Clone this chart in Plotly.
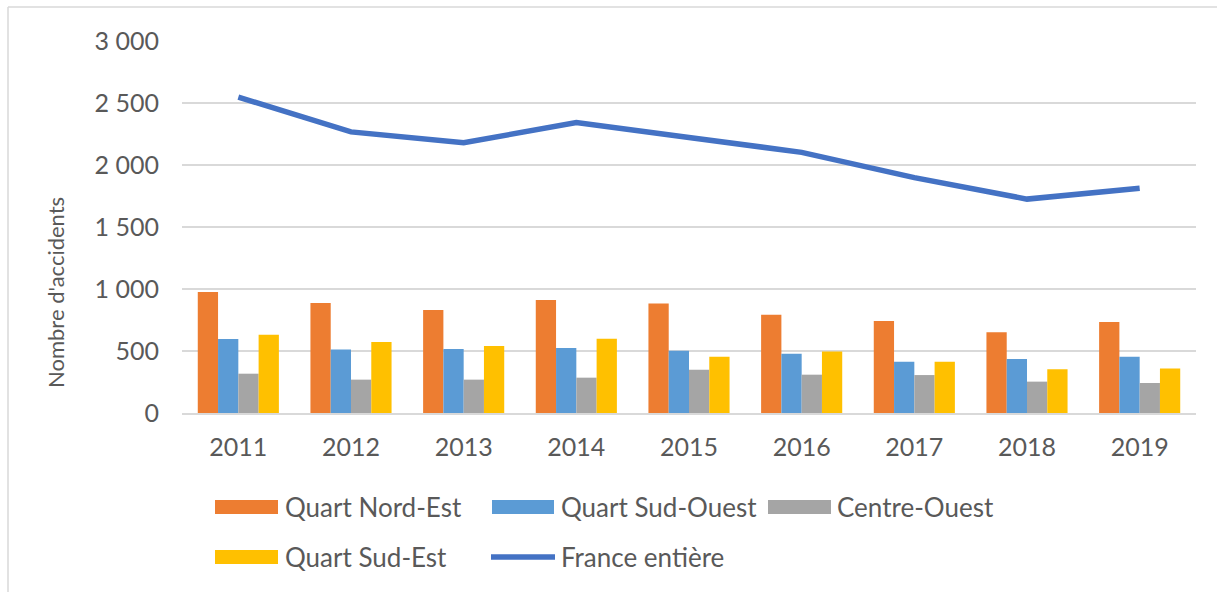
import plotly.graph_objects as go

years = ["2011", "2012", "2013", "2014", "2015", "2016", "2017", "2018", "2019"]
nord_est = [976, 887, 831, 911, 884, 793, 742, 651, 734]
sud_ouest = [597, 513, 516, 524, 503, 478, 414, 435, 454]
centre_ouest = [317, 269, 269, 285, 349, 309, 306, 253, 242]
sud_est = [632, 573, 540, 599, 454, 495, 414, 352, 358]
france = [2548, 2267, 2179, 2343, 2222, 2102, 1898, 1725, 1813]

y_ticks = [0, 500, 1000, 1500, 2000, 2500, 3000]
y_tick_text = ["0", "500", "1 000", "1 500", "2 000", "2 500", "3 000"]

names = ["Quart Nord-Est", "Quart Sud-Ouest", "Centre-Ouest", "Quart Sud-Est", "France entière"]
colors = ["#ED7D31", "#5B9BD5", "#A5A5A5", "#FFC000", "#4472C4"]

W, H = 1217, 592
L, R, T, B = 182, 21, 41, 179
PW, PH = W - L - R, H - T - B
FONT = "Lato"
TXT = "#595959"


def px(x):
    return (x - L) / PW


def py(y):
    return (H - B - y) / PH


fig = go.Figure()
for name, vals, col in zip(names[:4], [nord_est, sud_ouest, centre_ouest, sud_est], colors[:4]):
    fig.add_trace(go.Bar(x=years, y=vals, name=name, marker=dict(color=col, line=dict(width=0)),
                         showlegend=False))
fig.add_trace(go.Scatter(x=years, y=france, name=names[4], mode="lines",
                         line=dict(color=colors[4], width=5.5), showlegend=False))

shapes = []
annotations = []
# custom legend
legend_items = [
    (0, 215, 278, 285, 507),
    (1, 492, 554, 561, 507),
    (2, 768, 831, 837, 507),
    (3, 215, 278, 285, 557),
    (4, 489, 557, 561, 557),
]
for idx, x0, x1, tx, yc in legend_items:
    if idx == 4:
        shapes.append(dict(type="line", xref="paper", yref="paper", x0=px(x0 + 2), x1=px(x1 - 2),
                           y0=py(yc), y1=py(yc), line=dict(color=colors[idx], width=5.5)))
    else:
        shapes.append(dict(type="rect", xref="paper", yref="paper", x0=px(x0), x1=px(x1),
                           y0=py(yc + 7), y1=py(yc - 7), fillcolor=colors[idx], line=dict(width=0)))
    annotations.append(dict(text=names[idx], xref="paper", yref="paper", x=px(tx - 2), y=py(yc),
                            xanchor="left", yanchor="middle", showarrow=False,
                            font=dict(family=FONT, size=26, color=TXT)))

# y-axis title
annotations.append(dict(text="Nombre d'accidents", xref="paper", yref="paper", x=px(55), y=py(293),
                        textangle=-90, showarrow=False, xanchor="center", yanchor="middle",
                        font=dict(family=FONT, size=22, color=TXT)))

# outer border (left & top)
shapes.append(dict(type="line", xref="paper", yref="paper", x0=px(8), x1=px(8), y0=py(7), y1=py(592),
                   line=dict(color="#D9D9D9", width=1.5)))
shapes.append(dict(type="line", xref="paper", yref="paper", x0=px(8), x1=px(1217), y0=py(7), y1=py(7),
                   line=dict(color="#D9D9D9", width=1.5)))

fig.update_layout(
    width=W, height=H,
    margin=dict(l=L, r=R, t=T, b=B),
    plot_bgcolor="white", paper_bgcolor="white",
    barmode="group", bargap=0.28, bargroupgap=0,
    font=dict(family=FONT, color=TXT),
    shapes=shapes, annotations=annotations,
    xaxis=dict(type="category", range=[-0.5, 8.5], showgrid=False, zeroline=False,
               showline=True, linecolor="#D9D9D9", linewidth=2, ticks="",
               tickfont=dict(family=FONT, size=25, color=TXT), ticklabelstandoff=11),
    yaxis=dict(range=[0, 3000], tickvals=y_ticks, ticktext=y_tick_text, showgrid=True,
               gridcolor="#D9D9D9", gridwidth=1.5, zeroline=False, showline=False, ticks="",
               tickfont=dict(family=FONT, size=25, color=TXT), ticklabelstandoff=22),
)

fig.write_html("out.html", config={"displayModeBar": False},
               post_script="document.body.style.margin='0';")
